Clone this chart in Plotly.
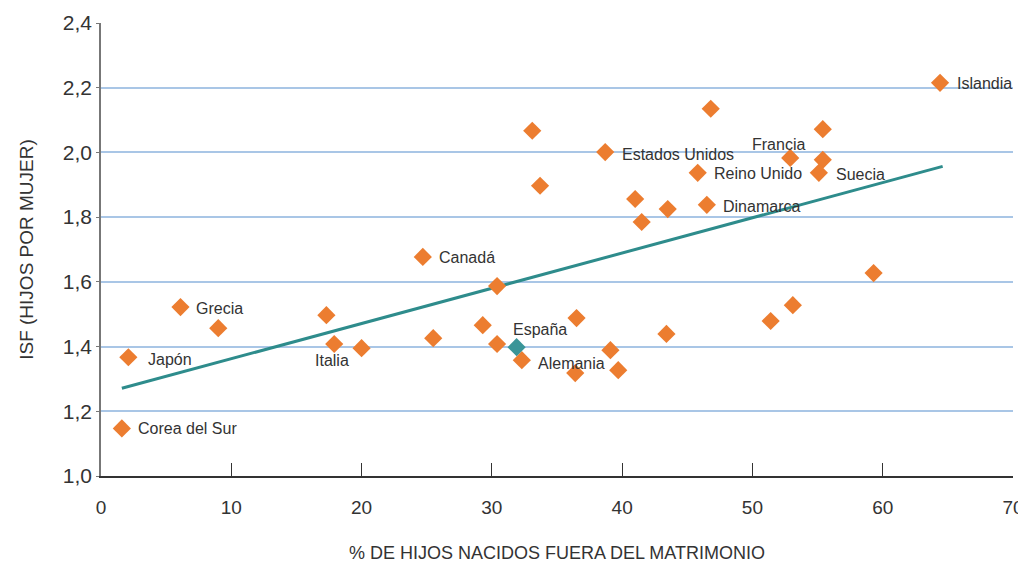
import plotly.graph_objects as go

# % de hijos nacidos fuera del matrimonio (x) e ISF (y)
paises = [
    "Corea del Sur", "Japón", "Grecia", "", "", "Italia", "", "", "Canadá", "",
    "", "", "Alemania", "", "", "", "", "Estados Unidos", "", "",
    "", "", "", "", "Reino Unido", "", "Dinamarca", "Francia", "", "",
    "", "", "Suecia", "", "Islandia",
]
pct_fuera = [
    1.6, 2.1, 6.1, 9.0, 17.3, 17.9, 20.0, 25.5, 24.7, 29.3,
    30.4, 30.4, 32.3, 33.1, 33.7, 36.5, 36.4, 38.7, 39.1, 39.7,
    41.0, 41.5, 43.5, 43.4, 45.8, 46.8, 46.5, 52.9, 51.4, 53.1,
    55.4, 55.4, 55.1, 59.3, 64.4,
]
isf = [
    1.147, 1.367, 1.522, 1.457, 1.497, 1.408, 1.395, 1.426, 1.677, 1.466,
    1.587, 1.408, 1.358, 2.067, 1.897, 1.488, 1.318, 2.001, 1.389, 1.327,
    1.856, 1.785, 1.825, 1.439, 1.937, 2.135, 1.838, 1.983, 1.479, 1.528,
    2.072, 1.977, 1.937, 1.627, 2.215,
]

espana_x = [31.9]
espana_y = [1.398]

tendencia_x = [1.6, 64.6]
tendencia_y = [1.271, 1.957]

x_ticks = [0, 10, 20, 30, 40, 50, 60, 70]
y_ticks = [1.0, 1.2, 1.4, 1.6, 1.8, 2.0, 2.2, 2.4]

# desplazamiento de cada etiqueta (px): xshift, yshift, xanchor
pos_etiqueta = {
    "Corea del Sur": (14, 0, "left"),
    "Japón": (18, -2, "left"),
    "Grecia": (14, -1, "left"),
    "Italia": (-2, -17, "center"),
    "Canadá": (14, -1, "left"),
    "Alemania": (14, -3, "left"),
    "Estados Unidos": (15, -2, "left"),
    "Reino Unido": (14, -1, "left"),
    "Dinamarca": (14, -2, "left"),
    "Francia": (-12, 13, "center"),
    "Suecia": (15, -2, "left"),
    "Islandia": (15, -1, "left"),
}

NARANJA = "#EC7D30"
TEAL = "#2E8C8C"
FONT = "Liberation Sans"

fig = go.Figure()

fig.add_trace(
    go.Scatter(
        x=tendencia_x,
        y=tendencia_y,
        mode="lines",
        line=dict(color=TEAL, width=3),
        hoverinfo="skip",
        showlegend=False,
    )
)

fig.add_trace(
    go.Scatter(
        x=pct_fuera,
        y=isf,
        text=paises,
        mode="markers",
        marker=dict(symbol="diamond", size=14, color=NARANJA, line=dict(width=0)),
        showlegend=False,
    )
)

fig.add_trace(
    go.Scatter(
        x=espana_x,
        y=espana_y,
        mode="markers",
        marker=dict(symbol="diamond", size=14, color="#3A9598", line=dict(width=0)),
        showlegend=False,
    )
)

for nombre, xv, yv in zip(paises, pct_fuera, isf):
    if not nombre:
        continue
    dx, dy, anchor = pos_etiqueta[nombre]
    fig.add_annotation(
        x=xv, y=yv, text=nombre, showarrow=False,
        xanchor=anchor, yanchor="middle", xshift=dx, yshift=dy,
        font=dict(family=FONT, size=16, color="#333333"),
    )

fig.add_annotation(
    x=espana_x[0], y=espana_y[0], text="España", showarrow=False,
    xanchor="left", yanchor="middle", xshift=-6, yshift=18,
    font=dict(family=FONT, size=16, color="#333333"),
)

# the page body adds an 8px margin, so the figure is sized to fit inside it
fig.update_layout(
    width=1018,
    height=557,
    plot_bgcolor="white",
    paper_bgcolor="white",
    separators=",.",
    font=dict(family=FONT, color="#333333"),
    margin=dict(l=93, r=13, t=15, b=89),
    xaxis=dict(
        range=[0, 70],
        tickvals=x_ticks,
        automargin=False,
        ticks="inside",
        ticklen=13,
        tickcolor="#333333",
        showgrid=False,
        zeroline=False,
        showline=True,
        linecolor="#333333",
        linewidth=1.5,
        tickfont=dict(size=19, color="#333333"),
        ticklabelstandoff=13,
        title=dict(
            text="% DE HIJOS NACIDOS FUERA DEL MATRIMONIO",
            font=dict(size=18, color="#333333"),
            standoff=30,
        ),
    ),
    yaxis=dict(
        range=[1.0, 2.4],
        tickvals=y_ticks,
        tickformat=".1f",
        automargin=False,
        ticks="outside",
        ticklen=3,
        tickcolor="#777777",
        showgrid=True,
        gridcolor="#A9C6E6",
        gridwidth=1.5,
        zeroline=False,
        showline=True,
        linecolor="#777777",
        linewidth=1.5,
        tickfont=dict(size=21, color="#333333"),
        title=dict(
            text="ISF (HIJOS POR MUJER)",
            font=dict(size=19, color="#333333"),
            standoff=24,
        ),
    ),
)

fig.write_html("out.html")
